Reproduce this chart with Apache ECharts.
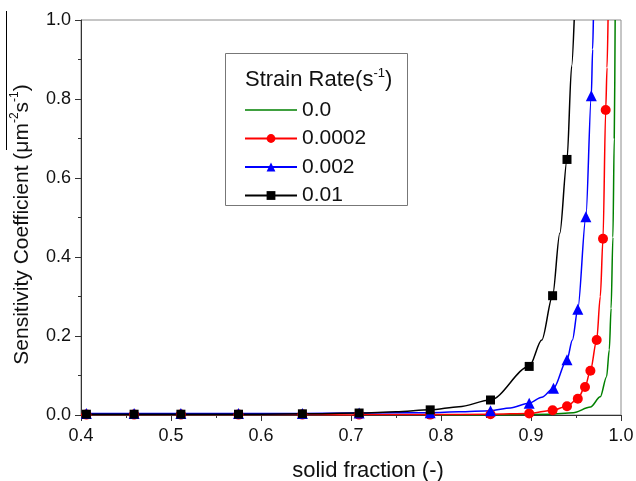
<!DOCTYPE html>
<html>
<head>
    <meta charset="utf-8">
    <script src="https://cdn.jsdelivr.net/npm/echarts@6/dist/echarts.min.js"></script>
    <style>
        body { margin: 0; background: #fff; }
        #main { width: 636px; height: 481px; }
    </style>
</head>
<body>
<div id="main"></div>
<script type="text/javascript">
    // legend names
    var names = ['0.0', '0.0002', '0.002', '0.01'];

    // tick labels
    var xTicks = ['0.4', '0.5', '0.6', '0.7', '0.8', '0.9', '1.0'];
    var yTicks = ['0.0', '0.2', '0.4', '0.6', '0.8', '1.0'];

    // curves
    var greenX = [0.80, 0.86, 0.92, 0.947, 0.966, 0.977, 0.984, 0.987, 0.989, 0.991, 0.9925, 0.9935];
    var greenY = [0.0, 0.0, 0.002, 0.006, 0.020, 0.046, 0.097, 0.165, 0.27, 0.45, 0.70, 1.0];

    var redX = [0.40, 0.70, 0.977, 0.9845, 0.9856];
    var redY = [0.0, 0.0, 0.30, 0.88, 1.0];
    var redMarkX = [0.406, 0.459, 0.511, 0.575, 0.646, 0.709, 0.788, 0.855, 0.898, 0.924, 0.940, 0.952, 0.960, 0.966, 0.973, 0.980, 0.983];
    var redMarkY = [0.001, 0.001, 0.001, 0.001, 0.001, 0.001, 0.001, 0.002, 0.004, 0.012, 0.022, 0.041, 0.071, 0.112, 0.190, 0.446, 0.772];

    var blueX = [0.70, 0.82, 0.877, 0.912, 0.946, 0.9685, 0.9693];
    var blueY = [0.005, 0.008, 0.018, 0.045, 0.19, 0.926, 1.0];
    var blueMarkX = [0.406, 0.459, 0.511, 0.575, 0.646, 0.709, 0.788, 0.855, 0.898, 0.925, 0.940, 0.952, 0.961, 0.967];
    var blueMarkY = [0.004, 0.004, 0.004, 0.004, 0.004, 0.005, 0.006, 0.011, 0.030, 0.068, 0.140, 0.268, 0.502, 0.808];

    var blackX = [0.49, 0.60, 0.75, 0.82, 0.912, 0.932, 0.9452, 0.948];
    var blackY = [0.002, 0.002, 0.008, 0.021, 0.19, 0.46, 0.884, 1.0];
    var blackMarkX = [0.406, 0.459, 0.511, 0.575, 0.646, 0.709, 0.788, 0.855, 0.898, 0.924, 0.940];
    var blackMarkY = [0.002, 0.002, 0.002, 0.002, 0.003, 0.005, 0.013, 0.038, 0.123, 0.302, 0.647];

    // merge curve points (no symbol) with marker points (symbol)
    function build(cx, cy, mx, my) {
        var pts = [];
        for (var i = 0; i < cx.length; i++) {
            pts.push({ value: [cx[i], cy[i]], symbol: 'none' });
        }
        for (var j = 0; j < mx.length; j++) {
            pts.push({ value: [mx[j], my[j]] });
        }
        pts.sort(function (a, b) { return a.value[0] - b.value[0]; });
        return pts;
    }

    var myChart = echarts.init(document.getElementById('main'));

    var lineCommon = {
        type: 'line',
        smooth: 0.3,
        smoothMonotone: 'x',
        showAllSymbol: true,
        animation: false
    };

    option = {
        backgroundColor: '#fff',
        textStyle: { fontFamily: 'Liberation Sans, Arial, sans-serif' },
        grid: {
            left: 81, right: 15, top: 20, bottom: 66,
            containLabel: false,
            outerBoundsMode: 'none',
            show: true, borderColor: '#8c8c8c', borderWidth: 1
        },
        legend: {
            orient: 'vertical',
            left: 239,
            top: 94,
            itemWidth: 52,
            itemHeight: 11,
            itemGap: 6.5,
            textStyle: { fontSize: 21, color: '#111', lineHeight: 22 },
            data: [
                { name: names[0], icon: 'path://M0,0 L52,0 L52,1.5 L0,1.5 Z' },
                names[1], names[2], names[3]
            ]
        },
        graphic: [
            {
                type: 'rect',
                shape: { x: 225.5, y: 53.5, width: 182, height: 152 },
                style: { fill: 'none', stroke: '#777', lineWidth: 1 }
            },
            {
                type: 'text',
                left: 245, top: 67,
                style: {
                    rich: {
                        a: { fontSize: 22, fill: '#111', fontFamily: 'Liberation Sans', lineHeight: 26 },
                        s: { fontSize: 13, fill: '#111', fontFamily: 'Liberation Sans', verticalAlign: 'top', lineHeight: 26 }
                    },
                    text: '{a|Strain Rate(s}{s|-1}{a|)}'
                }
            },
            {
                type: 'line',
                shape: { x1: 6.5, y1: 11, x2: 6.5, y2: 150 },
                style: { stroke: '#000', lineWidth: 1 }
            }
        ],
        xAxis: {
            type: 'value',
            min: 0.4, max: 1.0, interval: 0.1,
            name: 'solid fraction (-)',
            nameLocation: 'middle',
            nameGap: 45,
            nameTextStyle: { fontSize: 22, color: '#111', padding: [0, 0, 0, 34] },
            axisLine: { lineStyle: { color: '#333', width: 1 } },
            axisTick: { inside: false, length: 6, lineStyle: { color: '#333' } },
            minorTick: { show: true, splitNumber: 2, length: 3, lineStyle: { color: '#333' } },
            splitLine: { show: false },
            axisLabel: {
                fontSize: 18, color: '#111', margin: 12,
                formatter: function (v) { return xTicks[Math.round((v - 0.4) * 10)]; }
            }
        },
        yAxis: {
            type: 'value',
            min: 0, max: 1.0, interval: 0.2,
            name: '{a|Sensitivity Coefficient (μm}{s|-2}{a|s}{s|-1}{a|)}',
            nameLocation: 'middle',
            nameGap: 46,
            nameRotate: 90,
            nameTextStyle: {
                padding: [0, 14, 0, 0],
                rich: {
                    a: { fontSize: 21, color: '#111', lineHeight: 26 },
                    s: { fontSize: 12, color: '#111', verticalAlign: 'top', lineHeight: 26 }
                }
            },
            axisLine: { show: true, lineStyle: { color: '#333', width: 1 } },
            axisTick: { show: true, inside: false, length: 6, lineStyle: { color: '#333' } },
            minorTick: { show: true, splitNumber: 2, length: 3, lineStyle: { color: '#333' } },
            splitLine: { show: false },
            axisLabel: {
                fontSize: 18, color: '#111', margin: 10,
                formatter: function (v) { return yTicks[Math.round(v * 5)]; }
            }
        },
        series: [
            Object.assign({}, lineCommon, {
                name: names[0],
                symbol: 'none',
                lineStyle: { color: '#008000', width: 1.5 },
                itemStyle: { color: '#008000' },
                data: build(greenX, greenY, [], [])
            }),
            Object.assign({}, lineCommon, {
                name: names[1],
                symbol: 'circle',
                symbolSize: 10,
                lineStyle: { color: '#ff0000', width: 1.5 },
                itemStyle: { color: '#ff0000' },
                data: build(redX, redY, redMarkX, redMarkY)
            }),
            Object.assign({}, lineCommon, {
                name: names[2],
                symbol: 'triangle',
                symbolSize: 11,
                lineStyle: { color: '#0000ff', width: 1.5 },
                itemStyle: { color: '#0000ff' },
                data: build(blueX, blueY, blueMarkX, blueMarkY)
            }),
            Object.assign({}, lineCommon, {
                name: names[3],
                symbol: 'rect',
                symbolSize: 9,
                lineStyle: { color: '#000000', width: 1.5 },
                itemStyle: { color: '#000000' },
                data: build(blackX, blackY, blackMarkX, blackMarkY)
            })
        ]
    };

    myChart.setOption(option);
</script>
</body>
</html>
